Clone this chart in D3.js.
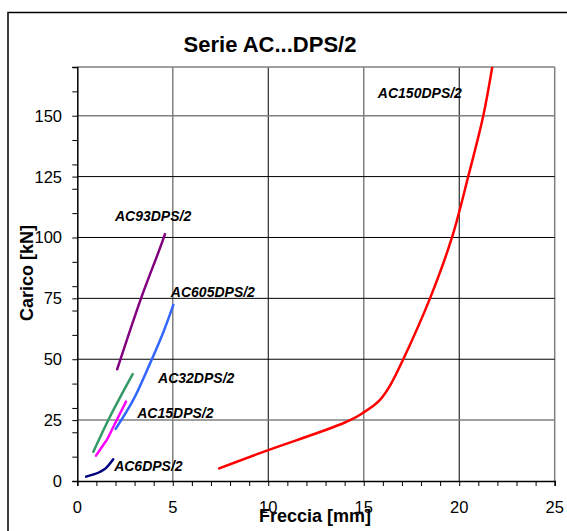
<!DOCTYPE html>
<html>
<head>
<meta charset="utf-8">
<script src="https://cdn.jsdelivr.net/npm/d3@7"></script>
<style>
  body { margin: 0; background: #fff; }
  svg { display: block; font-family: "Liberation Sans", Arial, sans-serif; }
</style>
</head>
<body>
<script>
// series: Freccia [mm] vs Carico [kN]
var ac6 = [[0.46, 1.8], [0.9, 2.8], [1.2, 3.8], [1.5, 5.3], [1.88, 8.9]];
var ac15 = [[0.98, 10.4], [1.36, 14.8], [1.54, 16.8], [2.0, 24.0], [2.55, 32.6]];
var ac32 = [[0.84, 12.0], [1.71, 26.4], [2.9, 43.9]];
var ac605 = [[2.01, 21.4], [2.93, 33.3], [3.81, 48.3], [4.5, 61.0], [5.03, 72.3]];
var ac93 = [[2.09, 45.9], [3.37, 75.7], [4.3, 95.0], [4.59, 101.4]];
var ac150 = [
  [7.43, 5.2], [10.0, 12.7], [12.53, 19.6], [13.8, 23.3], [14.5, 25.8],
  [15.0, 28.2], [15.45, 30.6], [15.85, 33.3], [16.4, 39.5], [17.07, 50.0],
  [18.47, 75.0], [19.62, 100.0], [20.47, 125.0], [21.26, 150.0], [21.73, 170.0]
];
var seriesNames = ["AC6DPS/2", "AC15DPS/2", "AC32DPS/2", "AC605DPS/2", "AC93DPS/2", "AC150DPS/2"];
var seriesColors = ["#000080", "#ff00ff", "#339966", "#3366ff", "#800080", "#ff0000"];
var labelPos = [[1.93, 4.1], [3.14, 25.7], [4.23, 40.4], [4.9, 75.7], [1.97, 106.6], [15.74, 157.3]];
var xTicks = [0, 5, 10, 15, 20, 25];
var yTicks = [0, 25, 50, 75, 100, 125, 150];

var width = 567, height = 531;
var svg = d3.select("body").append("svg").attr("width", width).attr("height", height);

var x = d3.scaleLinear().domain([0, 25]).range([77.3, 554.7]);
var y = d3.scaleLinear().domain([0, 170]).range([481, 67]);

// outer frame (right and bottom are off the picture)
svg.append("path")
  .attr("d", "M8,531V12.5H567")
  .attr("fill", "none").attr("stroke", "#000").attr("stroke-width", 1.5);

svg.append("text")
  .attr("x", 270).attr("y", 52)
  .attr("text-anchor", "middle")
  .style("font-size", "22px").style("font-weight", "bold")
  .text("Serie AC...DPS/2");

// grid
var grayX = [5, 15, 25], grayY = [25, 150, 170];
svg.append("g").selectAll("line")
  .data([5, 10, 15, 20, 25]).enter().append("line")
  .attr("x1", d => x(d)).attr("x2", d => x(d))
  .attr("y1", y(0)).attr("y2", y(170))
  .attr("stroke", d => grayX.indexOf(d) >= 0 ? "#808080" : "#000")
  .attr("stroke-width", d => grayX.indexOf(d) >= 0 ? 1.5 : 1);
svg.append("g").selectAll("line")
  .data([25, 50, 75, 100, 125, 150, 170]).enter().append("line")
  .attr("x1", x(0)).attr("x2", x(25))
  .attr("y1", d => y(d)).attr("y2", d => y(d))
  .attr("stroke", d => grayY.indexOf(d) >= 0 ? "#808080" : "#000")
  .attr("stroke-width", d => grayY.indexOf(d) >= 0 ? 1.5 : 1);

// axes
var xAxis = svg.append("g").attr("transform", "translate(0," + y(0) + ")")
  .call(d3.axisBottom(x).tickValues(d3.range(0, 26, 1)).tickSize(5).tickFormat(""));
var yAxis = svg.append("g").attr("transform", "translate(" + x(0) + ",0)")
  .call(d3.axisLeft(y).tickValues([0, 10, 20, 25, 30, 40, 50, 60, 70, 75, 80, 90, 100, 110, 120, 125, 130, 140, 150, 160, 170]).tickSize(5).tickFormat(""));
[xAxis, yAxis].forEach(function (g) {
  g.select(".domain").attr("stroke", "#000").attr("stroke-width", 1.5);
  g.selectAll(".tick line").attr("stroke", "#000").attr("stroke-width", 1);
});

svg.append("g").selectAll("text")
  .data(xTicks).enter().append("text")
  .attr("x", d => x(d)).attr("y", 512.5)
  .attr("text-anchor", "middle")
  .style("font-size", "16.5px")
  .text(d => d);
svg.append("g").selectAll("text")
  .data(yTicks).enter().append("text")
  .attr("x", 62).attr("y", d => y(d) + 6)
  .attr("text-anchor", "end")
  .style("font-size", "16.5px")
  .text(d => d);

svg.append("text")
  .attr("x", 315).attr("y", 522)
  .attr("text-anchor", "middle")
  .style("font-size", "18px").style("font-weight", "bold")
  .text("Freccia [mm]");
svg.append("text")
  .attr("transform", "translate(33,273) rotate(-90)")
  .attr("text-anchor", "middle")
  .style("font-size", "18px").style("font-weight", "bold")
  .text("Carico [kN]");

// curves
svg.append("clipPath").attr("id", "plot")
  .append("rect").attr("x", x(0)).attr("y", y(170))
  .attr("width", x(25) - x(0)).attr("height", y(0) - y(170));

var line = d3.line()
  .x(d => x(d[0])).y(d => y(d[1]))
  .curve(d3.curveCatmullRom.alpha(0.5));

var allSeries = [ac6, ac15, ac32, ac605, ac93, ac150];
svg.append("g").attr("clip-path", "url(#plot)")
  .selectAll("path").data(allSeries).enter().append("path")
  .attr("d", line)
  .attr("fill", "none")
  .attr("stroke", (d, i) => seriesColors[i])
  .attr("stroke-width", 2.5)
  .attr("stroke-linecap", "round");

svg.append("g").selectAll("text")
  .data(seriesNames).enter().append("text")
  .attr("x", (d, i) => x(labelPos[i][0]))
  .attr("y", (d, i) => y(labelPos[i][1]))
  .style("font-size", "14px").style("font-weight", "bold").style("font-style", "italic")
  .text(d => d);
</script>
</body>
</html>
